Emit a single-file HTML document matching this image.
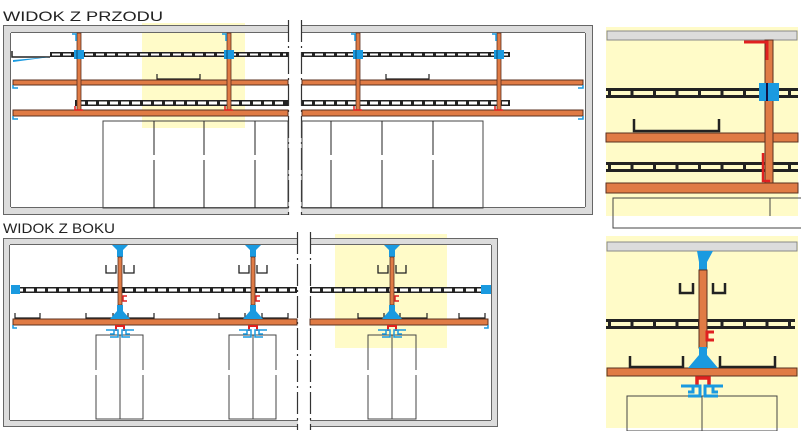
<!DOCTYPE html>
<html><head><meta charset="utf-8"><style>
html,body{margin:0;padding:0;background:#fff;width:801px;height:431px;overflow:hidden}
svg{display:block}
text{font-family:"Liberation Sans",sans-serif;font-size:14px;fill:#222}
</style></head><body>
<svg id="s" width="801" height="431" viewBox="0 0 801 431" xmlns="http://www.w3.org/2000/svg">
<rect x="142" y="23" width="103" height="105" fill="#fffbc8"/>
<rect x="335" y="234" width="112" height="114" fill="#fffbc8"/>
<rect x="606" y="27" width="192" height="189" fill="#fffbc8"/>
<rect x="606" y="236" width="192" height="192" fill="#fffbc8"/>
<text x="3" y="21" textLength="160" lengthAdjust="spacingAndGlyphs">WIDOK Z PRZODU</text>
<text x="3" y="233" textLength="112" lengthAdjust="spacingAndGlyphs">WIDOK Z BOKU</text>
<g id="g"></g>
</svg>
<script>
const g=document.getElementById('g');let h='';
const O='#e07b45',B='#1a9ae0',R='#e02020',K='#222';
function r(x,y,w,hh,f,s,sw){h+=`<rect x="${x}" y="${y}" width="${w}" height="${hh}" fill="${f}" ${s?`stroke="${s}" stroke-width="${sw||1}"`:''}/>`;}
function l(x1,y1,x2,y2,c,w,d){h+=`<line x1="${x1}" y1="${y1}" x2="${x2}" y2="${y2}" stroke="${c}" stroke-width="${w||1}" ${d?`stroke-dasharray="${d}"`:''}/>`;}
function p(d,f,s,w){h+=`<path d="${d}" fill="${f||'none'}" ${s?`stroke="${s}" stroke-width="${w||1}"`:''}/>`;}
function frame(x1,x2,y1,y2,t,openL,openR){
 const G='#dcdcdc';
 r(x1,y1,x2-x1,t,G); r(x1,y2-t,x2-x1,t,G);
 if(!openL) r(x1,y1,t,y2-y1,G);
 if(!openR) r(x2-t,y1,t,y2-y1,G);
 l(x1,y1+.5,x2,y1+.5,'#666'); l(x1,y2-.5,x2,y2-.5,'#666');
 l(openL?x1:x1+t,y1+t-.5,openR?x2:x2-t,y1+t-.5,'#666');
 l(openL?x1:x1+t,y2-t+.5,openR?x2:x2-t,y2-t+.5,'#666');
 if(!openL){l(x1+.5,y1,x1+.5,y2,'#666');l(x1+t-.5,y1+t,x1+t-.5,y2-t,'#666');}
 if(!openR){l(x2-.5,y1,x2-.5,y2,'#666');l(x2-t+.5,y1+t,x2-t+.5,y2-t,'#666');}
}
function ladder(x1,x2,y,hh){r(x1,y,x2-x1,hh,K);l(x1+2,y+hh/2,x2-2,y+hh/2,'#fff',hh-3,'8 3');}
function bigLadder(x1,x2,y,hh){r(x1,y,x2-x1,3,K);r(x1,y+hh-3,x2-x1,3,K);
 for(let x=x1+2;x<x2;x+=22.5) r(x,y,3,hh,K);}
function beam(x1,x2,y,hh){r(x1,y,x2-x1,hh,O,'#5a3020',1);}
function dashV(x,y1,y2){l(x,y1,x,y2,'#333',1.2,'22 4 2 4');}
// ===== top front view =====
frame(3,289,25,215,8,false,true);
frame(301,593,25,215,8,true,false);
dashV(288.5,20,215);dashV(301.5,20,215);
r(103,121,185,87,'none','#444',1);r(302,121,181,87,'none','#444',1);
[154,204,255,331,382,433].forEach(x=>{l(x,121,x,155,'#222');l(x,160,x,208,'#222');});
p('M157 74 V79 H200 V74','none',K,1.2);p('M386 74 V79 H429 V74','none',K,1.2);
beam(13,288,80,5);beam(302,583,80,5);beam(13,288,110,6);beam(302,583,110,6);
ladder(50,288,52,5);ladder(302,510,52,5);ladder(75,288,100,6);ladder(302,510,100,6);
p('M12 51 V57 H50','none',K,1.5);p('M13 60 L50 57 L13 62Z',B);
[79,229,358,499].forEach(x=>{r(x-2,33,4,77,O,'#5a3020',.8);r(x-5,50,10,9,B);l(x-2,50,x-2,59,'#0a4a70');
 p(`M${x-7} 34 H${x-3} V41`,'none',B,1.5);p(`M${x-4} 106 V110 H${x+4}`,'none',R,1.5);});
p('M13 85 V88 H18','none',B,1.5);p('M13 116 V119 H18','none',B,1.5);
p('M583 85 V88 H578','none',B,1.5);p('M583 116 V119 H578','none',B,1.5);
// ===== side view =====
frame(3,298,238,427,7,false,true);
frame(310,498,238,427,7,true,false);
dashV(297.5,232,430);dashV(310.5,232,430);
ladder(13,297,287,6);ladder(310,484,287,6);r(11,285,9,9,B);r(481,285,10,9,B);
beam(13,297,319,6);beam(310,488,319,6);
p('M13 325 V328 H17','none',B,1.5);p('M488 325 V328 H484','none',B,1.5);
[[15,40],[86,113],[128,154],[219,245],[262,288],[358,384],[400,427],[459,485]].forEach(([a,b])=>p(`M${a} 313 V318 H${b} V313`,'none',K,1.2));
[[96,143,120],[229,276,253],[368,416,392]].forEach(([a,b,c])=>{r(a,335,b-a,84,'none','#444');l(c,335,c,419,'#444');
 l(a,370,a,375,'#fff',2);l(b,370,b,375,'#fff',2);});
function hanger(x,top,rb,beamTop,beamBot,ly){
 p(`M${x-8} ${top} H${x+8} L${x+3} ${top+5} V${top+12} H${x-3} V${top+5}Z`,B);
 r(x-2,top+12,4,rb-(top+12),O,'#5a3020',.8);
 const hy=top+20;
 p(`M${x-14} ${hy} V${hy+8} H${x-4} V${hy} M${x+4} ${hy} V${hy+8} H${x+14} V${hy}`,'none',K,1.3);
 p(`M${x+7} ${ly} H${x+3} V${ly+5} H${x+7}`,'none',R,1.5);
 p(`M${x-3} ${rb} H${x+3} V${rb+6} L${x+10} ${beamTop} H${x-10} L${x-3} ${rb+6}Z`,B);
 const by=beamBot;
 p(`M${x-4} ${by+6} V${by+1} H${x+4} V${by+6}`,'none',R,2);
 p(`M${x-14} ${by+5} H${x-2} V${by+12} H${x-10} M${x-6} ${by+5} V${by+9} H${x-10}`,'none',B,1.5);
 p(`M${x+14} ${by+5} H${x+2} V${by+12} H${x+10} M${x+6} ${by+5} V${by+9} H${x+10}`,'none',B,1.5);
}
[120,253,392].forEach(x=>hanger(x,245,305,319,325,296));
// ===== zoom top right =====
r(607,31,190,9,'#dcdcdc','#888');
r(613,198,200,30,'none','#444');l(770,198,770,216,'#444');
bigLadder(606,798,88,10);
bigLadder(606,798,162,10);
beam(606,798,133,9);beam(606,798,183,10);
r(765,40,8,143,O,'#5a3020',1);r(759,83,20,18,B);l(767,83,767,101,'#114',2);
p('M744 42 H767 V60','none',R,3);p('M763 153 V181 H770','none',R,2.5);
p('M634 119 V131 H719 V119','none',K,2.5);
// ===== zoom bottom right =====
r(607,242,190,9,'#dcdcdc','#888');
r(627,396,150,35,'none','#444');l(702,396,702,431,'#444');
bigLadder(606,795,319,10);
beam(607,797,368,8);
p('M630 356 V367 H683 V356 M720 356 V367 H775 V356','none',K,2.5);
p('M697 251 H713 L707 262 V270 H699 V262Z',B);
r(699,270,8,78,O,'#5a3020',1);
p('M680 283 V293 H693 V283 M713 283 V293 H725 V283','none',K,2.5);
p('M714 332 H707 V340 H714','none',R,3);
p('M699 347 H707 V355 L718 368 H688 L699 355Z',B);
p('M697 387 V378 H709 V387','none',R,3.5);
p('M681 386 H700 V396 H688 M693 386 V392 H688','none',B,3);
p('M723 386 H705 V396 H718 M713 386 V392 H718','none',B,3);
g.innerHTML=h;
</script>
</body></html>
